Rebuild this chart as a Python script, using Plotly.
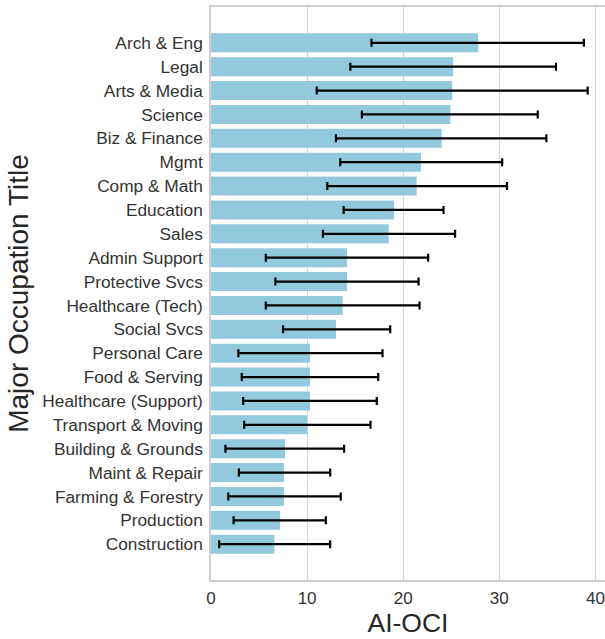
import plotly.graph_objects as go

categories = ["Arch & Eng", "Legal", "Arts & Media", "Science", "Biz & Finance", "Mgmt",
              "Comp & Math", "Education", "Sales", "Admin Support", "Protective Svcs",
              "Healthcare (Tech)", "Social Svcs", "Personal Care", "Food & Serving",
              "Healthcare (Support)", "Transport & Moving", "Building & Grounds",
              "Maint & Repair", "Farming & Forestry", "Production", "Construction"]
ai_oci = [27.8, 25.2, 25.1, 24.9, 24.0, 21.85, 21.4, 19.05, 18.5, 14.15, 14.15,
          13.7, 13.0, 10.3, 10.3, 10.3, 10.0, 7.7, 7.6, 7.6, 7.2, 6.6]
ci_low = [16.7, 14.5, 11.0, 15.7, 13.0, 13.45, 12.1, 13.8, 11.65, 5.7, 6.7,
          5.7, 7.5, 2.85, 3.2, 3.35, 3.45, 1.5, 2.9, 1.8, 2.35, 0.85]
ci_high = [38.8, 35.9, 39.2, 34.0, 34.9, 30.3, 30.8, 24.2, 25.4, 22.6, 21.6,
           21.7, 18.65, 17.85, 17.4, 17.25, 16.6, 13.85, 12.4, 13.5, 11.95, 12.4]
x_ticks = [0, 10, 20, 30, 40]

err_plus = [h - v for h, v in zip(ci_high, ai_oci)]
err_minus = [v - l for v, l in zip(ai_oci, ci_low)]

fig = go.Figure(go.Bar(
    y=categories, x=ai_oci, orientation="h",
    marker=dict(color="#93C9DE", line=dict(width=0)),
    width=0.8,
    error_x=dict(type="data", symmetric=False, array=err_plus, arrayminus=err_minus,
                 color="black", thickness=2.2, width=4),
))

font_fam = "Liberation Sans, Arial, sans-serif"
fig.update_layout(
    width=605, height=639,
    margin=dict(l=211, r=0, t=7, b=59),
    plot_bgcolor="white", paper_bgcolor="white",
    font=dict(family=font_fam, color="#262626"),
    showlegend=False,
    xaxis=dict(range=[0, 41.0], tickvals=x_ticks, showgrid=True, gridcolor="#d5d5d5",
               gridwidth=1.2, zeroline=False, showline=True, linecolor="#cfcfcf",
               linewidth=1.5, mirror=True, tickfont=dict(size=17, color="#333333"),
               ticks="", ticklabelstandoff=2, automargin=False,
               title=dict(text="AI-OCI", font=dict(size=26.5, color="#262626"), standoff=4)),
    yaxis=dict(categoryorder="array", categoryarray=categories, autorange=False,
               range=[22.5, -1.5], showgrid=False, zeroline=False, showline=True,
               linecolor="#cfcfcf", linewidth=1.5, mirror=True, ticks="",
               ticklabelstandoff=3, automargin=False,
               tickfont=dict(size=17.3, color="#333333"),
               title=dict(text="Major Occupation Title", font=dict(size=28, color="#262626"), standoff=6)),
)

fig.write_html("out.html", config={"displayModeBar": False},
               post_script="document.body.style.margin='0';")
